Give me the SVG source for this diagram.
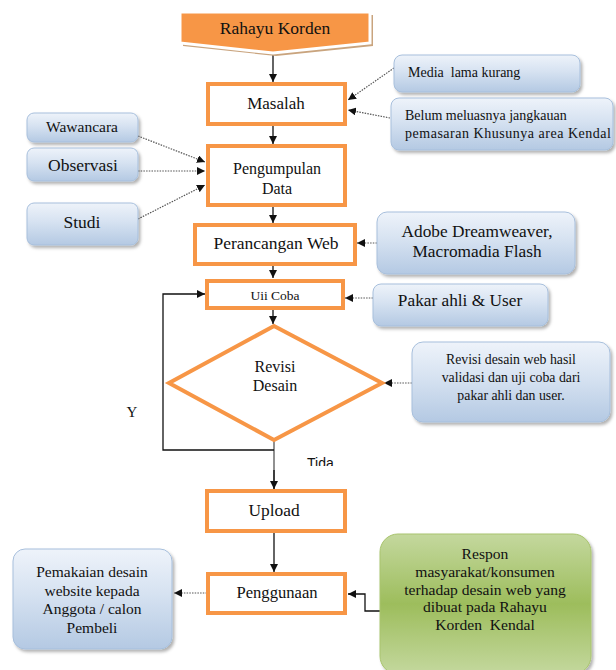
<svg xmlns="http://www.w3.org/2000/svg" width="616" height="670" viewBox="0 0 616 670">
  <defs>
    <style>
      text { font-family: 'Liberation Serif', 'Times New Roman', serif; fill: #111; }
      .c { text-anchor: middle; }
      .s { text-anchor: start; }
      .proc { fill: #fff; stroke: #f79646; stroke-width: 4; }
      .info { fill: url(#blueGrad); stroke: #a7bfdc; stroke-width: 1; filter: url(#shadow); }
      .solid { fill: none; stroke: #111; stroke-width: 1.3; }
      .dot { fill: none; stroke: #555; stroke-width: 1.2; stroke-dasharray: 1.5 1.2; }
      .sans { font-family: 'Liberation Sans', Arial, sans-serif; }
    </style>
    <linearGradient id="blueGrad" x1="0" y1="0" x2="0" y2="1">
      <stop offset="0" stop-color="#eef3fa"/>
      <stop offset="0.45" stop-color="#d6e2f1"/>
      <stop offset="1" stop-color="#b4c9e3"/>
    </linearGradient>
    <linearGradient id="greenGrad" x1="0" y1="0" x2="0" y2="1">
      <stop offset="0" stop-color="#c4d89e"/>
      <stop offset="0.5" stop-color="#9dbd5c"/>
      <stop offset="1" stop-color="#c4d89e"/>
    </linearGradient>
    <filter id="shadow" x="-10%" y="-10%" width="125%" height="130%">
      <feDropShadow dx="2" dy="2.5" stdDeviation="1.5" flood-color="#000" flood-opacity="0.3"/>
    </filter>
    <marker id="arr" viewBox="0 0 10 10" refX="10" refY="5" markerWidth="8" markerHeight="8" markerUnits="userSpaceOnUse" orient="auto">
      <path d="M0,0 L10,5 L0,10 Z" fill="#111"/>
    </marker>
    <clipPath id="tidaClip">
      <rect x="290" y="450" width="60" height="16"/>
    </clipPath>
  </defs>

  <rect width="616" height="670" fill="#fff"/>

  <!-- connectors -->
  <g id="connectors">
    <line class="solid" x1="273" y1="54" x2="273" y2="82" marker-end="url(#arr)"/>
    <line class="solid" x1="273" y1="126" x2="273" y2="144" marker-end="url(#arr)"/>
    <line class="solid" x1="273" y1="207" x2="273" y2="223" marker-end="url(#arr)"/>
    <line class="solid" x1="273" y1="265" x2="273" y2="278" marker-end="url(#arr)"/>
    <line class="solid" x1="273" y1="310" x2="273" y2="324" marker-end="url(#arr)"/>
    <line x1="274" y1="441" x2="274" y2="489" stroke="#555" stroke-width="1.3"/>
    <line class="solid" x1="274" y1="470" x2="274" y2="489" marker-end="url(#arr)"/>
    <polyline class="solid" points="274,450 163,450 163,294 205,294" marker-end="url(#arr)"/>
    <line class="solid" x1="274" y1="532" x2="274" y2="572" marker-end="url(#arr)"/>
    <polyline class="solid" points="380,611 365,611 365,594 348,594" marker-end="url(#arr)"/>

    <line class="dot" x1="394" y1="68" x2="348" y2="100" marker-end="url(#arr)"/>
    <line class="dot" x1="390" y1="118" x2="348" y2="110" marker-end="url(#arr)"/>
    <line class="dot" x1="138" y1="136" x2="205" y2="162" marker-end="url(#arr)"/>
    <line class="dot" x1="138" y1="171" x2="205" y2="171" marker-end="url(#arr)"/>
    <line class="dot" x1="138" y1="219" x2="205" y2="185" marker-end="url(#arr)"/>
    <line class="dot" x1="377" y1="243" x2="357" y2="243" marker-end="url(#arr)"/>
    <line class="dot" x1="373" y1="298" x2="345" y2="298" marker-end="url(#arr)"/>
    <line class="dot" x1="412" y1="383" x2="384" y2="383" marker-end="url(#arr)"/>
    <line class="dot" x1="207" y1="593" x2="174" y2="593" marker-end="url(#arr)"/>
  </g>

  <!-- start banner -->
  <g id="start">
    <polygon points="183,15 373,15 373,46 276,56 183,46" fill="#c9a47e"/>
    <polygon points="180,12 370,12 370,43 273,53 180,43" fill="#f79646" stroke="#fff" stroke-width="3"/>
    <text class="c" x="275" y="34" font-size="17.5">Rahayu Korden</text>
  </g>

  <g id="masalah">
    <rect class="proc" x="208" y="84" width="137" height="40"/>
    <text class="c" x="276" y="109" font-size="17">Masalah</text>
  </g>

  <g id="media">
    <rect class="info" x="394" y="55" width="186" height="37" rx="8"/>
    <text class="s" x="408" y="77" font-size="14" xml:space="preserve">Media  lama kurang</text>
  </g>

  <g id="belum">
    <rect class="info" x="391" y="98" width="222" height="52" rx="8"/>
    <text class="s" x="405" y="120" font-size="14">Belum meluasnya jangkauan</text>
    <text class="s" x="405" y="138" font-size="14" textLength="206">pemasaran Khusunya area Kendal</text>
  </g>

  <g id="wawancara">
    <rect class="info" x="27" y="113" width="111" height="29" rx="7"/>
    <text class="c" x="82" y="132" font-size="15.5">Wawancara</text>
  </g>

  <g id="observasi">
    <rect class="info" x="27" y="148" width="111" height="33" rx="7"/>
    <text class="c" x="83" y="171" font-size="17.5">Observasi</text>
  </g>

  <g id="studi">
    <rect class="info" x="27" y="203" width="111" height="42" rx="7"/>
    <text class="c" x="82" y="228" font-size="17.5">Studi</text>
  </g>

  <g id="pengumpulan">
    <rect class="proc" x="208" y="146" width="137" height="59"/>
    <text class="c" x="277" y="174" font-size="16">Pengumpulan</text>
    <text class="c" x="277" y="194" font-size="16">Data</text>
  </g>

  <g id="perancangan">
    <rect class="proc" x="195" y="225" width="160" height="39"/>
    <text class="c" x="276" y="249" font-size="17.5">Perancangan Web</text>
  </g>

  <g id="adobe">
    <rect class="info" x="377" y="212" width="198" height="62" rx="10"/>
    <text class="c" x="477" y="237" font-size="17.3">Adobe Dreamweaver,</text>
    <text class="c" x="477" y="257" font-size="17.3">Macromadia Flash</text>
  </g>

  <g id="ujicoba">
    <rect class="proc" x="207" y="281" width="136" height="27"/>
    <text class="c" x="275" y="300" font-size="13.5">Uii Coba</text>
  </g>

  <g id="pakar">
    <rect class="info" x="373" y="284" width="175" height="42" rx="8"/>
    <text class="c" x="460" y="306" font-size="17.3">Pakar ahli &amp; User</text>
  </g>

  <g id="revisi">
    <polygon points="274,326 382,383 274,440 169,383" fill="#fff" stroke="#f79646" stroke-width="4"/>
    <text class="c" x="275" y="372" font-size="16">Revisi</text>
    <text class="c" x="275" y="391" font-size="16">Desain</text>
  </g>

  <g id="revisi-note">
    <rect class="info" x="412" y="342" width="198" height="80" rx="11"/>
    <text class="c" x="511" y="364" font-size="13.8">Revisi desain web hasil</text>
    <text class="c" x="511" y="382" font-size="13.8">validasi dan uji coba dari</text>
    <text class="c" x="511" y="400" font-size="13.8">pakar ahli dan user.</text>
  </g>

  <g id="labels">
    <text class="c" x="132" y="417" font-size="15">Y</text>
    <text class="s sans" x="307" y="468" font-size="14" clip-path="url(#tidaClip)">Tida</text>
  </g>

  <g id="upload">
    <rect class="proc" x="207" y="491" width="138" height="40"/>
    <text class="c" x="274" y="516" font-size="17.4">Upload</text>
  </g>

  <g id="penggunaan">
    <rect class="proc" x="208" y="574" width="137" height="39"/>
    <text class="c" x="277" y="598" font-size="16.6">Penggunaan</text>
  </g>

  <g id="pemakaian">
    <rect class="info" x="13" y="549" width="159" height="100" rx="12"/>
    <text class="c" x="92" y="577" font-size="15.5">Pemakaian desain</text>
    <text class="c" x="92" y="596" font-size="15.5">website kepada</text>
    <text class="c" x="92" y="614" font-size="15.5">Anggota / calon</text>
    <text class="c" x="92" y="633" font-size="15.5">Pembeli</text>
  </g>

  <g id="respon">
    <rect x="380" y="534" width="211" height="140" rx="18" fill="url(#greenGrad)" stroke="#a9c46e" stroke-width="1" filter="url(#shadow)"/>
    <text class="c" x="485" y="559" font-size="15.6">Respon</text>
    <text class="c" x="485" y="577" font-size="15.6">masyarakat/konsumen</text>
    <text class="c" x="485" y="595" font-size="15.6">terhadap desain web yang</text>
    <text class="c" x="485" y="612" font-size="15.6">dibuat pada Rahayu</text>
    <text class="c" x="485" y="630" font-size="15.6" xml:space="preserve">Korden  Kendal</text>
  </g>
</svg>
